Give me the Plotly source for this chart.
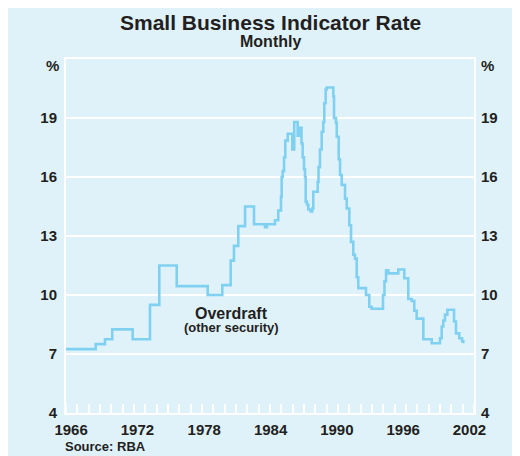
import plotly.graph_objects as go

# Breakpoints (decimal year, rate %) of the step series
years = [1966.0, 1968.62, 1969.44, 1970.08, 1971.88, 1973.41, 1974.23, 1975.77,
         1978.5, 1979.79, 1980.53, 1980.82, 1981.2, 1981.8, 1982.59, 1983.56,
         1983.73, 1984.44, 1984.73, 1984.97, 1985.03, 1985.12, 1985.24, 1985.35,
         1985.56, 1985.97, 1986.14, 1986.44, 1986.58, 1986.78, 1986.88, 1987.0,
         1987.09, 1987.15, 1987.26, 1987.38, 1987.59, 1987.73, 1987.82, 1988.21,
         1988.28, 1988.41, 1988.56, 1988.7, 1988.79, 1988.91, 1989.0, 1989.59,
         1989.65, 1989.82, 1989.89, 1990.06, 1990.18, 1990.33, 1990.62, 1990.77,
         1991.0, 1991.15, 1991.35, 1991.5, 1991.65, 1991.79, 1992.47, 1992.76,
         1992.97, 1993.97, 1994.1, 1994.24, 1994.44, 1995.32, 1995.85, 1996.2,
         1996.5, 1996.73, 1996.94, 1997.53, 1998.27, 1999.0, 1999.15, 1999.29,
         1999.44, 1999.65, 2000.24, 2000.41, 2000.7, 2000.95, 2001.06]
rates = [7.25, 7.5, 7.75, 8.25, 7.75, 9.5, 11.5, 10.45,
         10.0, 10.5, 11.75, 12.5, 13.5, 14.5, 13.6, 13.45,
         13.6, 13.8, 14.3, 15.0, 16.0, 16.3, 17.0, 17.85,
         18.2, 17.4, 18.8, 18.1, 18.5, 17.7, 17.0, 16.4,
         16.0, 14.75, 14.6, 14.35, 14.25, 14.4, 15.25, 15.75,
         16.5, 17.4, 18.3, 18.8, 19.75, 20.45, 20.55, 20.1,
         19.0, 18.75, 18.05, 16.9, 16.1, 15.6, 14.9, 14.4,
         13.55, 12.7, 12.05, 11.85, 10.9, 10.35, 10.0, 9.4,
         9.3, 10.0, 10.7, 11.25, 11.1, 11.3, 10.85, 9.8,
         9.7, 9.2, 8.8, 7.75, 7.55, 7.8, 8.4, 8.7,
         9.0, 9.25, 8.65, 8.05, 7.8, 7.65, 7.55]

y_ticks = [4, 7, 10, 13, 16, 19]
x_label_text = ["1966", "1972", "1978", "1984", "1990", "1996", "2002"]
x_label_pos = [1966.45, 1972.3, 1978.2, 1984.05, 1989.9, 1995.75, 2001.6]

BG = "#dff2fa"
LINE = "#80d1f1"
TXT = "#231f20"
FONT = "Liberation Sans"

fig = go.Figure()
fig.add_trace(go.Scatter(x=years, y=rates, mode="lines", line_shape="hv",
                         line=dict(color=LINE, width=2.6), hoverinfo="skip",
                         showlegend=False))
# empty trace so the right-hand axis is drawn
fig.add_trace(go.Scatter(x=[], y=[], yaxis="y2", showlegend=False, hoverinfo="skip"))

tickfont = dict(family=FONT, size=15, color=TXT, weight="bold")

fig.update_layout(
    width=512, height=448,
    margin=dict(l=58, r=46, t=51, b=43, pad=0),
    paper_bgcolor=BG, plot_bgcolor=BG,
    showlegend=False,
    xaxis=dict(range=[1966, 2002], tickmode="array", tickvals=x_label_pos,
               ticktext=x_label_text, ticks="", showgrid=False, zeroline=False,
               showline=True, linecolor="white", linewidth=2, mirror=True,
               tickfont=tickfont, ticklabelstandoff=2, automargin=False,
               minor=dict(tickmode="linear", tick0=1966, dtick=1, ticks="inside",
                          ticklen=9, tickcolor="white", tickwidth=1.5, showgrid=False)),
    yaxis=dict(range=[4, 22], tickvals=y_ticks, ticks="", showgrid=True,
               gridcolor="white", gridwidth=2, zeroline=False, showline=True,
               linecolor="white", linewidth=2, mirror=True, tickfont=tickfont,
               ticklabelstandoff=4, automargin=False),
    yaxis2=dict(range=[4, 22], tickvals=y_ticks, ticks="", showgrid=False,
                zeroline=False, overlaying="y", side="right", anchor="x",
                tickfont=tickfont, ticklabelstandoff=6, automargin=False),
)

anns = [
    dict(text="Small Business Indicator Rate", x=0.5, y=1.1025, xref="paper", yref="paper",
         showarrow=False, xanchor="center", yanchor="middle",
         font=dict(family=FONT, size=21, color=TXT, weight="bold")),
    dict(text="Monthly", x=0.5, y=1.0508, xref="paper", yref="paper",
         showarrow=False, xanchor="center", yanchor="middle",
         font=dict(family=FONT, size=16, color=TXT, weight="bold")),
    dict(text="%", x=-0.033, y=0.983, xref="paper", yref="paper", showarrow=False,
         xanchor="center", yanchor="middle", font=tickfont),
    dict(text="%", x=1.0319, y=0.983, xref="paper", yref="paper", showarrow=False,
         xanchor="center", yanchor="middle", font=tickfont),
    dict(text="Overdraft", x=1980.56, y=9.07, xref="x", yref="y", showarrow=False,
         xanchor="center", yanchor="middle",
         font=dict(family=FONT, size=16, color=TXT, weight="bold")),
    dict(text="(other security)", x=1980.56, y=8.36, xref="x", yref="y", showarrow=False,
         xanchor="center", yanchor="middle",
         font=dict(family=FONT, size=13, color=TXT, weight="bold")),
    dict(text="Source: RBA", x=-0.0074, y=-0.096, xref="paper", yref="paper",
         showarrow=False, xanchor="left", yanchor="middle",
         font=dict(family=FONT, size=13, color=TXT, weight="bold")),
]
fig.update_layout(annotations=anns)

fig.write_html("out.html")
